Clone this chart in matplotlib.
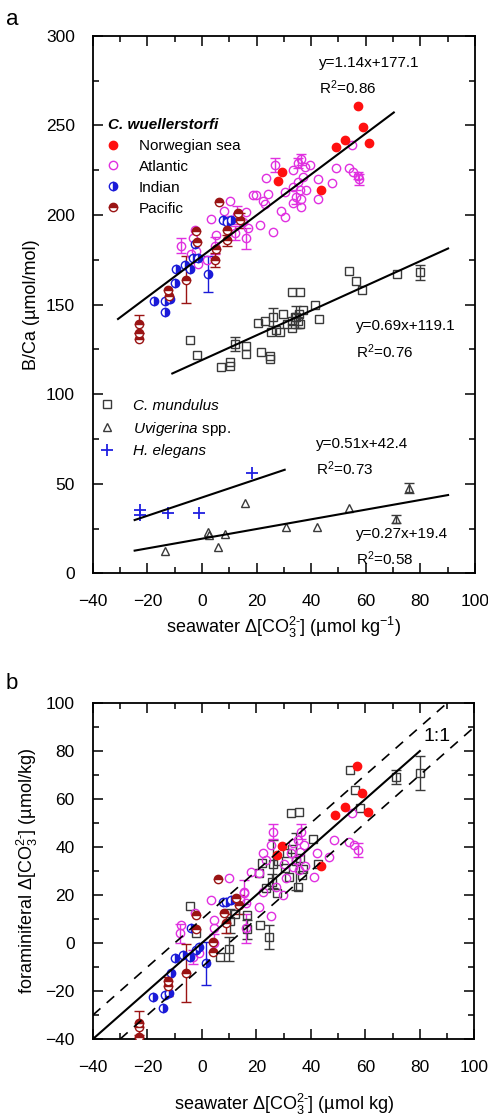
"""
plot.py

Two-panel figure: benthic foraminiferal B/Ca vs seawater carbonate ion
saturation (panel a) and the reconstructed vs seawater value (panel b).
"""

import numpy as np
import matplotlib
matplotlib.use("Agg")
import matplotlib.pyplot as plt
from matplotlib.lines import Line2D

plt.rcParams["font.family"] = ["Liberation Sans", "DejaVu Sans"]
plt.rcParams["mathtext.fontset"] = "custom"
plt.rcParams["mathtext.rm"] = "Liberation Sans"
plt.rcParams["mathtext.it"] = "Liberation Sans:italic"
plt.rcParams["mathtext.bf"] = "Liberation Sans:bold"

# Colours
C_NOR = "#ff1010"
C_ATL = "#e030e0"
C_IND = "#1a1ad8"
C_PAC = "#9a1414"
C_MUN = "#3a3a3a"
C_UVI = "#3a3a3a"
C_HEL = "#2020e0"

# ---------------- panel a: B/Ca (umol/mol) ----------------
NOR_X_A = [57, 59, 52.3, 49, 61.2, 29.4, 28, 43.5]
NOR_Y_A = [261, 249, 242, 238, 240, 224, 219, 214]

ATL_X_A = [55, 49, 54, 55.5, 57, 57.5, 47.5, 26.6, 23.6, 19.9, 22.3, 23, 26, 21.1,
           30.3, 29, 30.3, 33.3, 35.2, 36.4, 37.6, 39.5, 37, 35.2, 33.3, 35.8, 38.2,
           34.6, 36.4, 36.4, 33.3, 42.5, 42.5, 24.2, 18.7, 16.3, 10.1, 3.4, 5.2, 4.6,
           -2.1, -3.3, -2.7, -7.6, -1.5, 16.3, 13, 15, 17, 10, 8, 12, -4, 2]
ATL_Y_A = [239, 226, 226, 224, 222, 220, 218, 228, 220.5, 211, 208, 206, 190.7, 194.4,
           213, 202, 199, 225, 229, 231, 227, 228, 221, 218.6, 215.8, 214, 214,
           210, 209, 204.7, 206.5, 220, 209, 212, 211, 201.7, 208, 198, 188.7, 183,
           180, 187, 191.4, 183, 172.8, 187, 200, 196, 193, 197, 202, 190, 178, 175]
ATL_E_A = [0, 0, 0, 0, 2, 3, 0, 4, 0, 0, 0, 0, 0, 0,
           0, 0, 0, 0, 3, 3, 0, 0, 0, 0, 0, 0, 0,
           4, 0, 0, 0, 0, 0, 0, 0, 0, 0, 0, 0, 5,
           0, 0, 0, 4, 0, 6, 5, 0, 0, 0, 0, 4, 0, 0]

IND_X_A = [-17.6, -13.7, -11.9, -13.5, -10, -9.4, -6.4, -3.3, -1.5, -2.7, -4.5, 2.2, 7.7, 10.7, 9]
IND_Y_A = [152, 146, 153, 152, 162, 170, 172, 176, 176, 184, 170, 167, 197, 197, 196]
IND_E_A = [0, 0, 0, 0, 0, 0, 0, 0, 0, 0, 0, 10, 0, 0, 0]

PAC_X_A = [-23, -23, -23, -12.5, -5.8, -2.1, -2, 4.6, 5.2, 9.3, 9.3, 6.4, 13.2, 13.8, -12]
PAC_Y_A = [139, 134, 131, 158, 164, 191, 185, 175, 181, 191.6, 186, 207, 201, 197, 155]
PAC_E_A = [5, 0, 0, 0, 13, 0, 0, 4, 0, 0, 3, 0, 0, 4, 0]

MUN_X_A = [54, 56.3, 58.8, 71.3, 79.8, 33.1, 35.8, 41.3, 42.8, 26, 29.7, 23, 20.5, 33,
           34.5, 35.5, 37, 27.3, 28.5, 25.4, 31, 33, 36, -4.3, -1.9, 7.1, 10.1, 10.1,
           12, 16.3, 16.3, 21.8, 25, 25, 34, 35]
MUN_Y_A = [169, 163, 158, 167, 168, 157, 157, 149.6, 142, 143, 144.5, 141, 140, 141,
           143, 145, 147, 135.6, 134.6, 134.6, 139, 137, 139, 130, 122, 115, 118, 116,
           128, 127, 122.6, 123.5, 121.6, 119.8, 143, 141]
MUN_E_A = [0, 0, 0, 0, 4, 0, 0, 0, 0, 5, 0, 0, 0, 0,
           6, 0, 0, 0, 0, 0, 0, 0, 0, 0, 0, 0, 0, 0,
           4, 0, 0, 0, 0, 0, 0, 4]

UVI_X_A = [-13.7, 2.2, 2.6, 8.3, 5.8, 15.9, 30.9, 42.1, 53.9, 71, 75.9]
UVI_Y_A = [12.7, 22.9, 21.5, 22, 14.5, 39.1, 25.7, 25.7, 36.5, 30.4, 47.7]
UVI_E_A = [0, 0, 0, 0, 0, 0, 0, 0, 0, 2, 3]

HEL_X_A = [-22.9, -22.9, -12.5, -1.2, 18.4]
HEL_Y_A = [35.4, 32.8, 33.5, 33.5, 56.3]

# regression lines: slope, intercept, x range, equation, R2, text x, text y's
FITS_A = [
    (1.14, 177.1, -30.8, 70.3, "y=1.14x+177.1", "R$^2$=0.86", 43.0, 285, 271),
    (0.69, 119.1, -10.9, 90.2, "y=0.69x+119.1", "R$^2$=0.76", 56.3, 138, 124),
    (0.51, 42.4, -24.7, 30.3, "y=0.51x+42.4", "R$^2$=0.73", 41.9, 72, 58.5),
    (0.27, 19.4, -24.7, 90.2, "y=0.27x+19.4", "R$^2$=0.58", 56.6, 22, 8.5),
]

# ---------------- panel b: foraminiferal D[CO3] ----------------
NOR_X_B = [56.9, 58.9, 52.6, 48.9, 61.1, 29.3, 27.4, 43.6]
NOR_Y_B = [73.6, 62.7, 56.6, 53.3, 54.7, 40.6, 36.7, 32.1]

ATL_X_B = [55.1, 54.1, 56, 57.2, 48.6, 46.8, 41.3, 42.1, 37.6, 36.4, 35.2, 33.3, 32.8,
           34.6, 33.3, 35.8, 26, 25.4, 22.3, 23.6, 21.1, 18.1, 15.6, 29.7, 25.4, 21.1,
           22.3, 27.3, 10.1, 3.4, 4.6, 4.6, 15.6, 16.3, 16.3, -8.2, -7.6, -2.7, -1.1,
           -3.3, 4.6, 30, 36, 38, 31]
ATL_Y_B = [54.1, 42.3, 40.9, 38.8, 43, 36, 27.7, 37.4, 40.9, 46.4, 43, 41.6, 37.4,
           34.6, 31.8, 30.5, 46.4, 40.9, 37.4, 34.6, 29.1, 29.7, 21.4, 20, 11.3, 15.1,
           21.4, 23.5, 27, 17.9, 9.6, 6.1, 20.7, 16.6, 6.1, 4, 7.5, 12.4, -4.3,
           -5.7, -0.1, 33, 38, 32, 27]
ATL_E_B = [0, 0, 0, 3, 0, 0, 0, 0, 0, 3, 0, 0, 0,
           0, 0, 0, 3, 0, 0, 0, 0, 0, 5, 0, 0, 0,
           0, 0, 0, 0, 0, 0, 0, 0, 6, 4, 0, 0, 0,
           3, 4, 0, 0, 0, 0]

IND_X_B = [-18, -14.3, -13.7, -11.9, -11.2, -10, -7, -4.5, -2.1, -3.9, 1.6, 7.7, 10.8, 9, -1]
IND_Y_B = [-22.4, -27.2, -21.7, -21, -12.6, -6.4, -5, -5.7, -2.9, 6.1, -8.5, 17.2, 17.9, 17, -1.5]
IND_E_B = [0, 0, 0, 0, 0, 0, 0, 0, 0, 0, 9, 0, 0, 0, 0]

PAC_X_B = [-23, -23, -23, -12.5, -12.5, -6, -2.1, 4, 4, 8.3, 8.9, 6, 12.6, 13.8, -2]
PAC_Y_B = [-33.5, -35, -39, -16, -18, -12.6, 11.7, 0.5, -3.6, 12.4, 8.2, 26.7, 18.6, 15.9, 6]
PAC_E_B = [5, 0, 0, 0, 4, 12, 0, 0, 0, 0, 4, 0, 0, 4, 0]

MUN_X_B = [54.2, 56.2, 58.1, 71.3, 79.9, 32.6, 35.8, 40.9, 42.5, -4.4, -2, 6.6, 10, 16.4,
           16.4, 21.3, 24.7, 21, 23.7, 27.4, 25.6, 31.1, 32.1, 36, 36.6, 35.4, 30.5,
           12, 10.5, 28, 34.6, 37, 33, 22, 26]
MUN_Y_B = [71.9, 63.6, 56.2, 69.1, 70.8, 54.1, 54.8, 43.3, 33, 15.6, 4, -5.7, -2.6, 11.7,
           5.7, 7.5, 2.4, 29.1, 22.8, 20.7, 25.6, 37.4, 27.4, 35.3, 28.4, 23.5, 31.2,
           12, 9, 34, 34, 31, 39, 33.5, 33]
MUN_E_B = [0, 0, 0, 3, 7, 0, 0, 0, 0, 0, 0, 0, 5, 0,
           4, 0, 5, 0, 0, 0, 3, 0, 0, 0, 0, 0, 0,
           0, 5, 0, 12, 0, 0, 0, 10]

# 1:1 line and +/-10 envelope
ONE_X = [-40, 80]
UPPER_X = [-40, 90]
LOWER_X = [-30, 100]
OFFSET = 10

FS = 11
TICK_FS = 12.5
LABEL_FS = 13
MS = 6
MU = "\u00b5"
CO3 = "$\\Delta$[CO$_3^{2\\text{-}}$]"


def style_axes(ax, ymajor, yminor):
    ax.set_xlim(-40, 100)
    ax.set_xticks(np.arange(-40, 101, 20))
    ax.set_xticks(np.arange(-40, 101, 10), minor=True)
    ax.set_yticks(ymajor)
    ax.set_yticks(yminor, minor=True)
    ax.tick_params(which="both", direction="in", top=True, right=True,
                   labelsize=TICK_FS, width=1.1)
    ax.tick_params(axis="x", which="major", pad=15)
    ax.tick_params(axis="y", which="major", pad=13)
    ax.tick_params(which="major", length=7)
    ax.tick_params(which="minor", length=4)
    for s in ax.spines.values():
        s.set_linewidth(1.3)


def scatter_group(ax, x, y, err, color, marker, fill="none", alt="white"):
    x = np.asarray(x, float)
    y = np.asarray(y, float)
    if err is not None:
        e = np.asarray(err, float)
        m = e > 0
        if m.any():
            ax.errorbar(x[m], y[m], yerr=e[m], fmt="none", ecolor=color,
                        elinewidth=1.0, capsize=3.5, capthick=1.0, zorder=2)
    if fill == "none":
        ax.plot(x, y, ls="none", marker=marker, ms=MS, mfc="none", mec=color,
                mew=1.0, zorder=3)
    elif fill == "full":
        ax.plot(x, y, ls="none", marker=marker, ms=MS, mfc=color, mec=color,
                mew=1.0, zorder=3)
    else:
        ax.plot(x, y, ls="none", marker=marker, ms=MS, fillstyle=fill,
                mfc=color, mfcalt=alt, mec=color, mew=1.0, zorder=3)


def wuellerstorfi(ax, nor, atl, ind, pac):
    scatter_group(ax, atl[0], atl[1], atl[2], C_ATL, "o")
    scatter_group(ax, ind[0], ind[1], ind[2], C_IND, "o", fill="right")
    scatter_group(ax, pac[0], pac[1], pac[2], C_PAC, "o", fill="top")
    scatter_group(ax, nor[0], nor[1], None, C_NOR, "o", fill="full")


fig = plt.figure(figsize=(4.89, 11.2), dpi=100)

# ---------------- panel a ----------------
ax = fig.add_axes([0.190, 0.488, 0.781, 0.480])
style_axes(ax, np.arange(0, 301, 50), np.arange(0, 301, 25))
ax.set_ylim(0, 300)

for m, b, x0, x1, eq, r2, tx, ty1, ty2 in FITS_A:
    xs = np.array([x0, x1])
    ax.plot(xs, m * xs + b, color="black", lw=1.5, zorder=4)
    ax.text(tx, ty1, eq, fontsize=FS, va="center", ha="left")
    ax.text(tx, ty2, r2, fontsize=FS, va="center", ha="left")

scatter_group(ax, MUN_X_A, MUN_Y_A, MUN_E_A, C_MUN, "s")
scatter_group(ax, UVI_X_A, UVI_Y_A, UVI_E_A, C_UVI, "^")
ax.plot(HEL_X_A, HEL_Y_A, ls="none", marker="+", ms=8, mew=1.3, color=C_HEL, zorder=3)
wuellerstorfi(ax, (NOR_X_A, NOR_Y_A), (ATL_X_A, ATL_Y_A, ATL_E_A),
              (IND_X_A, IND_Y_A, IND_E_A), (PAC_X_A, PAC_Y_A, PAC_E_A))

h1 = [
    Line2D([], [], ls="none", marker="o", ms=MS, mfc=C_NOR, mec=C_NOR),
    Line2D([], [], ls="none", marker="o", ms=MS, mfc="none", mec=C_ATL),
    Line2D([], [], ls="none", marker="o", ms=MS, fillstyle="right", mfc=C_IND,
           mfcalt="white", mec=C_IND),
    Line2D([], [], ls="none", marker="o", ms=MS, fillstyle="top", mfc=C_PAC,
           mfcalt="white", mec=C_PAC),
]
leg1 = ax.legend(h1, ["Norwegian sea", "Atlantic", "Indian", "Pacific"],
                 title="C. wuellerstorfi", loc="upper left",
                 bbox_to_anchor=(0.040, 0.847), frameon=False, fontsize=FS,
                 handlelength=0.6, handletextpad=1.4, borderpad=0,
                 borderaxespad=0, labelspacing=0.45, alignment="left",
                 title_fontproperties={"size": FS, "weight": "bold", "style": "italic"})
ax.add_artist(leg1)

h2 = [
    Line2D([], [], ls="none", marker="s", ms=MS, mfc="none", mec=C_MUN),
    Line2D([], [], ls="none", marker="^", ms=MS, mfc="none", mec=C_UVI),
    Line2D([], [], ls="none", marker="+", ms=8, mew=1.3, color=C_HEL),
]
leg2 = ax.legend(h2, ["C. mundulus", "$\\it{Uvigerina}$ spp.", "H. elegans"],
                 loc="upper left", bbox_to_anchor=(0.026, 0.325), frameon=False,
                 fontsize=FS, handlelength=0.6, handletextpad=1.4, borderpad=0,
                 borderaxespad=0, labelspacing=0.45)
leg2.get_texts()[0].set_fontstyle("italic")
leg2.get_texts()[2].set_fontstyle("italic")

ax.set_ylabel(f"B/Ca ({MU}mol/mol)", fontsize=LABEL_FS, labelpad=4)
ax.set_xlabel(f"seawater {CO3} ({MU}mol kg$^{{-1}}$)", fontsize=LABEL_FS, labelpad=4)
fig.text(0.012, 0.983, "a", fontsize=16, va="center")

# ---------------- panel b ----------------
bx = fig.add_axes([0.190, 0.0723, 0.780, 0.300])
style_axes(bx, np.arange(-40, 101, 20), np.arange(-40, 101, 10))
bx.set_ylim(-40, 100)

one = np.array(ONE_X, float)
up = np.array(UPPER_X, float)
lo = np.array(LOWER_X, float)
bx.plot(one, one, color="black", lw=1.5, zorder=4)
bx.plot(up, up + OFFSET, color="black", lw=1.2, ls=(0, (6, 5)), zorder=4)
bx.plot(lo, lo - OFFSET, color="black", lw=1.2, ls=(0, (6, 5)), zorder=4)
bx.text(86.5, 86, "1:1", fontsize=14, ha="center", va="center")

scatter_group(bx, MUN_X_B, MUN_Y_B, MUN_E_B, C_MUN, "s")
wuellerstorfi(bx, (NOR_X_B, NOR_Y_B), (ATL_X_B, ATL_Y_B, ATL_E_B),
              (IND_X_B, IND_Y_B, IND_E_B), (PAC_X_B, PAC_Y_B, PAC_E_B))

bx.set_ylabel(f"foraminiferal {CO3} ({MU}mol/kg)", fontsize=LABEL_FS, labelpad=4)
bx.set_xlabel(f"seawater {CO3} ({MU}mol kg)", fontsize=LABEL_FS, labelpad=12)
fig.text(0.012, 0.390, "b", fontsize=16, va="center")

fig.savefig("out.png", dpi=100)
